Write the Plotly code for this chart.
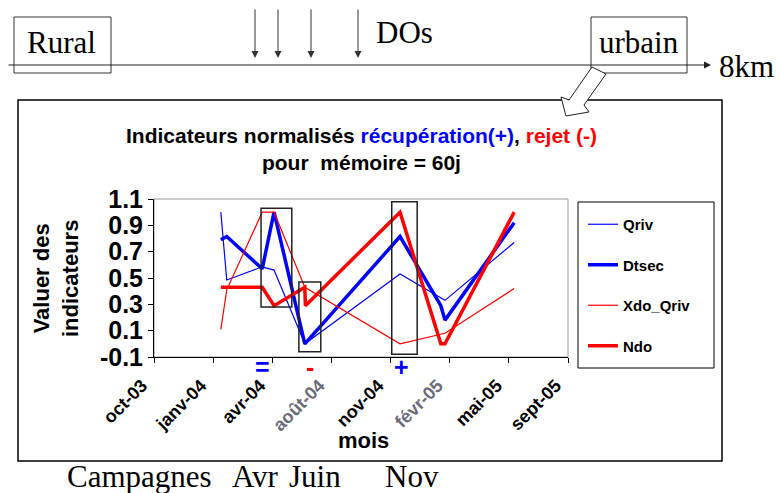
import pandas as pd
import plotly.graph_objects as go

W, H = 780, 493

# ---- indicator series (normalised values, memory = 60 days) ----
qriv_dates = ["2004-01-22", "2004-02-01", "2004-04-01", "2004-04-21", "2004-06-12",
              "2004-11-20", "2005-02-04", "2005-06-01"]
qriv = [1.0, 0.485, 0.585, 0.56, 0.0, 0.53, 0.33, 0.77]

dtsec_dates = ["2004-01-22", "2004-02-01", "2004-04-01", "2004-04-21", "2004-06-12",
               "2004-11-20", "2005-01-28", "2005-02-04", "2005-06-01"]
dtsec = [0.79, 0.815, 0.57, 1.0, 0.0, 0.815, 0.29, 0.18, 0.92]

xdo_dates = ["2004-01-22", "2004-02-01", "2004-04-01", "2004-04-21", "2004-06-12",
             "2004-11-20", "2005-02-04", "2005-06-01"]
xdo_qriv = [0.11, 0.41, 1.0, 1.0, 0.43, 0.0, 0.08, 0.42]

ndo_dates = ["2004-01-22", "2004-04-01", "2004-04-21", "2004-06-12", "2004-06-13",
             "2004-11-20", "2005-01-28", "2005-02-04", "2005-06-01"]
ndo = [0.43, 0.43, 0.29, 0.43, 0.29, 1.0, 0.0, 0.0, 1.0]

# ---- axis ticks ----
tick_labels = ["oct-03", "janv-04", "avr-04", "août-04", "nov-04", "févr-05", "mai-05", "sept-05"]
faded_labels = {"août-04", "févr-05"}
y_ticks = [-0.1, 0.1, 0.3, 0.5, 0.7, 0.9, 1.1]

# ---- campaign periods marked on the chart ----
campaign_signs = ["=", "-", "+"]
campaign_dates = ["2004-04-01", "2004-06-21", "2004-11-23"]
campaign_colors = ["#0000FF", "#FF0000", "#0000FF"]

SANS = "Liberation Sans, Arial, sans-serif"
SERIF = "Liberation Serif, Times New Roman, serif"


def px(x):
    return x / W


def py(y):
    return 1 - y / H


tick_dates = pd.date_range("2003-10-01", periods=len(tick_labels), freq="100D")
tick_text = [
    f"<span style='color:#6a6a78'>{t}</span>" if t in faded_labels else t
    for t in tick_labels
]

fig = go.Figure()
series = [
    ("Qriv", qriv_dates, qriv, "#0000FF", 1.2),
    ("Dtsec", dtsec_dates, dtsec, "#0000FF", 3.5),
    ("Xdo_Qriv", xdo_dates, xdo_qriv, "#FF0000", 1.2),
    ("Ndo", ndo_dates, ndo, "#FF0000", 3.5),
]
for name, xs, ys, color, width in series:
    fig.add_trace(go.Scatter(
        x=xs, y=ys, mode="lines", name=name, legendgroup=name,
        line=dict(color=color, width=width),
    ))

shapes = []
# plot-area border
shapes.append(dict(type="rect", xref="paper", yref="paper",
                   x0=px(154), x1=px(568), y0=py(357), y1=py(199),
                   line=dict(color="#9a9a9a", width=1), layer="below"))
# outer frame around the chart
shapes.append(dict(type="rect", xref="paper", yref="paper",
                   x0=px(18), x1=px(722), y0=py(461), y1=py(100),
                   line=dict(color="black", width=1.5)))
# legend frame
shapes.append(dict(type="rect", xref="paper", yref="paper",
                   x0=px(578), x1=px(714), y0=py(368), y1=py(202),
                   line=dict(color="black", width=1)))
# boxes around the sampling campaigns
for x0, x1, y0, y1 in [("2004-03-30", "2004-05-21", 0.28, 1.03),
                       ("2004-06-02", "2004-07-09", -0.06, 0.47),
                       ("2004-11-06", "2004-12-19", -0.08, 1.08)]:
    shapes.append(dict(type="rect", xref="x", yref="y", x0=x0, x1=x1, y0=y0, y1=y1,
                       line=dict(color="#222222", width=1.5)))

# river schematic: rural / urban boxes
for x0, x1 in [(14, 111), (591, 687)]:
    shapes.append(dict(type="rect", xref="paper", yref="paper",
                       x0=px(x0), x1=px(x1), y0=py(73), y1=py(17),
                       line=dict(color="#333333", width=1)))

# hollow block arrow from the urban box down to the chart
arrow_pts = [(592, 67), (606, 74), (584, 105), (589, 112), (566, 116), (561, 97), (569, 100)]
path = "M " + " L ".join(f"{px(x):.5f},{py(y):.5f}" for x, y in arrow_pts) + " Z"
shapes.append(dict(type="path", xref="paper", yref="paper", path=path,
                   line=dict(color="#222222", width=1), fillcolor="white"))

annotations = []
# axis line of the river with arrow
annotations.append(dict(x=px(711), y=py(65), xref="paper", yref="paper", text="",
                        showarrow=True, ax=-704, ay=0, arrowhead=2, arrowsize=1.4,
                        arrowwidth=1, arrowcolor="#222222"))
# discharge points
for xa in [255, 278, 311, 358]:
    annotations.append(dict(x=px(xa), y=py(58), xref="paper", yref="paper", text="",
                            showarrow=True, ax=0, ay=-50, arrowhead=2, arrowsize=1.4,
                            arrowwidth=1, arrowcolor="#333333"))

serif_texts = [
    ("Rural", 62, 42, "center"),
    ("urbain", 639, 42, "center"),
    ("DOs", 374, 32, "left"),
    ("8km", 717, 66, "left"),
    ("Campagnes", 65, 476, "left"),
    ("Avr", 230, 476, "left"),
    ("Juin", 287, 476, "left"),
    ("Nov", 383, 476, "left"),
]
for txt, xa, ya, anchor in serif_texts:
    annotations.append(dict(x=px(xa), y=py(ya), xref="paper", yref="paper", text=txt,
                            showarrow=False, xanchor=anchor, yanchor="middle",
                            font=dict(family=SERIF, size=31, color="black")))

# chart title
annotations.append(dict(
    x=px(361), y=py(149), xref="paper", yref="paper", showarrow=False,
    xanchor="center", yanchor="middle", align="center",
    text=("Indicateurs normalisés <span style='color:#0000FF'>récupération(+)</span>, "
          "<span style='color:#FF0000'>rejet (-)</span><br>pour  mémoire = 60j"),
    font=dict(family=SANS, size=21, color="black", weight="bold"),
))
# y-axis title
annotations.append(dict(
    x=px(56), y=py(278), xref="paper", yref="paper", showarrow=False,
    xanchor="center", yanchor="middle", textangle=-90, align="center",
    text="Valuer des<br>indicateurs",
    font=dict(family=SANS, size=22, color="black", weight="bold"),
))
# x-axis title
annotations.append(dict(
    x=px(363), y=py(440), xref="paper", yref="paper", showarrow=False,
    xanchor="center", yanchor="middle", text="mois",
    font=dict(family=SANS, size=22, color="black", weight="bold"),
))
# campaign signs under the axis
for sign, d, c in zip(campaign_signs, campaign_dates, campaign_colors):
    annotations.append(dict(
        x=d, y=py(367), xref="x", yref="paper", showarrow=False,
        xanchor="center", yanchor="middle", text=sign,
        font=dict(family=SANS, size=25, color=c, weight="bold"),
    ))

fig.update_layout(
    width=W, height=H,
    margin=dict(l=0, r=0, t=0, b=0, autoexpand=False),
    paper_bgcolor="white", plot_bgcolor="white",
    showlegend=True,
    legend=dict(
        x=px(583), y=py(208), xanchor="left", yanchor="top",
        bgcolor="rgba(0,0,0,0)", borderwidth=0,
        font=dict(family=SANS, size=15, color="black", weight="bold"),
        tracegroupgap=18, itemwidth=30,
    ),
    xaxis=dict(
        domain=[px(154), px(568)],
        type="date", range=[tick_dates[0], tick_dates[-1]],
        tickvals=list(tick_dates), ticktext=tick_text, tickangle=-45,
        tickfont=dict(family=SANS, size=18, color="black", weight="bold"),
        ticks="outside", ticklen=5, tickcolor="black",
        ticklabelstandoff=5, ticklabelshift=-12,
        showline=True, linecolor="black", linewidth=1,
        showgrid=False, zeroline=False,
    ),
    yaxis=dict(
        domain=[py(357), py(199)],
        range=[-0.1, 1.1],
        tickvals=y_ticks, ticktext=[f"{v:.1f}" for v in y_ticks],
        tickfont=dict(family=SANS, size=25, color="black", weight="bold"),
        ticks="outside", ticklen=5, tickcolor="black",
        showline=True, linecolor="black", linewidth=1,
        showgrid=False, zeroline=False,
    ),
    shapes=shapes,
    annotations=annotations,
)

fig.write_html("out.html")
